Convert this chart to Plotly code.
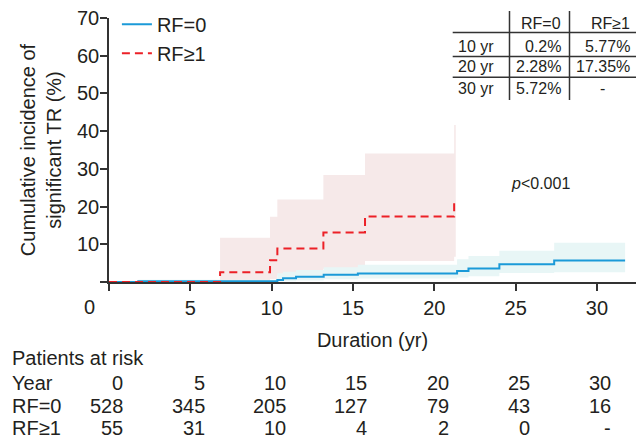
import plotly.graph_objects as go

# ---------------- data ----------------
# RF=0 cumulative incidence (step function)
rf0_time = [0, 1.8, 10.35, 10.7, 11.5, 13.2, 15.3, 21.4, 22.1, 24.0, 27.37, 31.73]
rf0_est = [0, 0.2, 0.5, 1.0, 1.4, 1.9, 2.28, 2.9, 3.6, 4.7, 5.72, 5.72]
rf0_upper = [0, 0.6, 2.3, 2.7, 3.2, 3.9, 4.6, 6.0, 6.9, 8.3, 10.4, 10.4]
rf0_lower = [0, 0.0, 0.1, 0.2, 0.4, 0.7, 0.9, 1.2, 1.5, 2.4, 2.6, 2.6]

# RF>=1 cumulative incidence (step function)
rf1_time = [0, 6.83, 9.9, 10.35, 13.18, 15.74, 21.22]
rf1_est = [0, 2.57, 5.77, 8.9, 13.1, 17.35, 21.7]
rf1_ci_time = [0, 6.83, 9.9, 10.35, 13.18, 15.74, 21.22, 21.32]
rf1_upper = [0, 11.75, 17.3, 21.9, 28.4, 34.1, 41.6, 41.6]
rf1_lower = [0, 0.4, 0.8, 1.8, 3.5, 5.6, 6.7, 6.7]

# inset table
tbl_header = ["RF=0", "RF\u22651"]
tbl_rows = ["10 yr", "20 yr", "30 yr"]
tbl_rf0 = ["0.2%", "2.28%", "5.72%"]
tbl_rf1 = ["5.77%", "17.35%", "-"]

# patients at risk
risk_years = [0, 5, 10, 15, 20, 25, 30]
risk_rf0 = ["528", "345", "205", "127", "79", "43", "16"]
risk_rf1 = ["55", "31", "10", "4", "2", "0", "-"]

x_ticks = [0, 5, 10, 15, 20, 25, 30]
y_ticks = [0, 10, 20, 30, 40, 50, 60, 70]

# ---------------- style ----------------
FONT = "Liberation Sans, Arial, sans-serif"
TXT = "#231f20"
BLUE = "#1b9ad8"
RED = "#ec2027"
BLUE_BAND = "rgba(232,246,246,1)"
RED_BAND = "rgba(246,233,233,1)"
W, H = 636, 443
ML, MR, MT, MB = 109, 0, 18, 161
PW, PH = W - ML - MR, H - MT - MB


def px_x(p):
    return (p - ML) / PW


def px_y(p):
    return (H - MB - p) / PH


fig = go.Figure()

# confidence bands
fig.add_trace(go.Scatter(x=rf1_ci_time, y=rf1_upper, mode="lines", line=dict(width=0, shape="hv"),
                         showlegend=False, hoverinfo="skip"))
fig.add_trace(go.Scatter(x=rf1_ci_time, y=rf1_lower, mode="lines", line=dict(width=0, shape="hv"),
                         fill="tonexty", fillcolor=RED_BAND, showlegend=False, hoverinfo="skip"))
fig.add_trace(go.Scatter(x=rf0_time, y=rf0_upper, mode="lines", line=dict(width=0, shape="hv"),
                         showlegend=False, hoverinfo="skip"))
fig.add_trace(go.Scatter(x=rf0_time, y=rf0_lower, mode="lines", line=dict(width=0, shape="hv"),
                         fill="tonexty", fillcolor=BLUE_BAND, showlegend=False, hoverinfo="skip"))

# curves
fig.add_trace(go.Scatter(x=rf0_time, y=rf0_est, mode="lines", name="RF=0",
                         line=dict(color=BLUE, width=2, shape="hv")))
fig.add_trace(go.Scatter(x=rf1_time, y=rf1_est, mode="lines", name="RF\u22651",
                         line=dict(color=RED, width=2, shape="hv", dash="8px,5px")))

ann = []
shapes = []


def note(text, x, y, font, xanchor="center", xref="paper"):
    ann.append(dict(text=text, x=x, y=y, xref=xref, yref="paper", xanchor=xanchor,
                    yanchor="middle", showarrow=False, font=font))


# x tick label "0" placed left of the origin
note("0", px_x(89), px_y(307), dict(size=20, color=TXT, family=FONT))

# p value
note("<i>p</i>&lt;0.001", px_x(540), px_y(183), dict(size=16, color=TXT, family=FONT))

# inset table
tfont = dict(size=16, color=TXT, family=FONT)
row_y = [46.7, 66.7, 88.5]
note(tbl_header[0], px_x(563), px_y(23.5), tfont, "right")
note(tbl_header[1], px_x(632), px_y(23.5), tfont, "right")
for i, lab in enumerate(tbl_rows):
    note(lab, px_x(476), px_y(row_y[i]), tfont)
    note(tbl_rf0[i], px_x(563), px_y(row_y[i]), tfont, "right")
    v = tbl_rf1[i]
    if v == "-":
        note(v, px_x(602), px_y(row_y[i]), tfont)
    else:
        note(v, px_x(632), px_y(row_y[i]), tfont, "right")
for yy in [32.5, 56.5, 77.3]:
    shapes.append(dict(type="line", xref="paper", yref="paper", x0=px_x(452.7), x1=px_x(636),
                       y0=px_y(yy), y1=px_y(yy), line=dict(color="#333", width=1.5)))
for xx in [509.5, 569.5]:
    shapes.append(dict(type="line", xref="paper", yref="paper", x0=px_x(xx), x1=px_x(xx),
                       y0=px_y(11), y1=px_y(100), line=dict(color="#333", width=1.5)))

# patients at risk table
rfont = dict(size=20, color=TXT, family=FONT)
note("Patients at risk", px_x(10), px_y(358), rfont, "left")
rows = [("Year", [str(v) for v in risk_years], 383), ("RF=0", risk_rf0, 406), ("RF\u22651", risk_rf1, 428)]
for lab, vals, yy in rows:
    note(lab, px_x(10), px_y(yy), rfont, "left")
    for yr, v in zip(risk_years, vals):
        note(v, yr + 1.0, px_y(yy), rfont, "right", xref="x")

fig.update_layout(
    width=W, height=H,
    margin=dict(l=ML, r=MR, t=MT, b=MB),
    paper_bgcolor="white", plot_bgcolor="white",
    font=dict(family=FONT, color=TXT, size=20),
    showlegend=True,
    legend=dict(x=0.015, y=1.05, xanchor="left", yanchor="top", bgcolor="rgba(0,0,0,0)",
                traceorder="normal",
                font=dict(size=20, color=TXT, family=FONT), tracegroupgap=0),
    annotations=ann, shapes=shapes,
    xaxis=dict(range=[0, 32.4], tickvals=x_ticks, ticktext=[""] + [str(v) for v in x_ticks[1:]],
               showline=True, linecolor="#333", linewidth=1.5, ticks="outside", ticklen=7,
               tickwidth=1.5, tickcolor="#333", showgrid=False, zeroline=False,
               tickfont=dict(size=20, color=TXT, family=FONT),
               title=dict(text="Duration (yr)", font=dict(size=20, color=TXT, family=FONT), standoff=15)),
    yaxis=dict(range=[0, 70], tickvals=y_ticks, ticktext=[""] + [str(v) for v in y_ticks[1:]],
               showline=True, linecolor="#333", linewidth=1.5, ticks="outside", ticklen=7,
               tickwidth=1.5, tickcolor="#333", showgrid=False, zeroline=False,
               ticklabelstandoff=-3,
               tickfont=dict(size=20, color=TXT, family=FONT),
               title=dict(text="Cumulative incidence of<br>significant TR (%)",
                          font=dict(size=20, color=TXT, family=FONT), standoff=10)),
)

fig.write_html("out.html")
